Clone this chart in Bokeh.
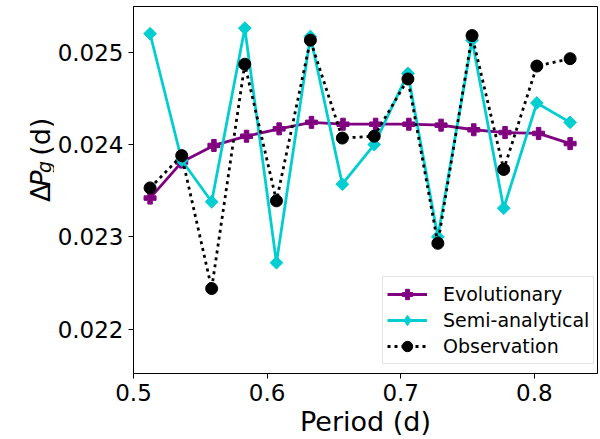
from math import pi
from bokeh.plotting import figure
from bokeh.layouts import row
from bokeh.models import Range1d, FixedTicker, ColumnDataSource, Legend, LegendItem
from bokeh.core.properties import value
from bokeh.embed import file_html
from bokeh.resources import INLINE

# ---- data ----
period_obs = [0.5124, 0.5361, 0.5585, 0.5833, 0.6070, 0.6324, 0.6563,
              0.6802, 0.7054, 0.7278, 0.7534, 0.7771, 0.8019, 0.8268]
dp_obs = [0.02353, 0.02388, 0.02244, 0.02487, 0.02339, 0.02513, 0.02407,
          0.02409, 0.02471, 0.02293, 0.02518, 0.02373, 0.02485, 0.02493]
dp_semi = [0.02520, 0.02383, 0.02338, 0.02526, 0.02272, 0.02517, 0.02357,
           0.02400, 0.02477, 0.02300, 0.02513, 0.02331, 0.02445, 0.02424]
period_evo = [0.5124, 0.5361, 0.5602, 0.5846, 0.6090, 0.6332, 0.6568,
              0.6812, 0.7061, 0.7302, 0.7547, 0.7781, 0.8032, 0.8268]
dp_evo = [0.02342, 0.02381, 0.02399, 0.02409, 0.02417, 0.02424, 0.02422,
          0.02422, 0.02422, 0.02421, 0.02416, 0.02413, 0.02412, 0.02401]
x_ticks = [0.5, 0.6, 0.7, 0.8]
y_ticks = [0.022, 0.023, 0.024, 0.025]
x_title = "Period (d)"
y_title_parts = ["Δ", "P", "g", "(d)"]
series_names = ["Evolutionary", "Semi-analytical", "Observation"]

FONT = "DejaVu Sans"
H = 439
LAB_W = 54
PURPLE = "#800080"
CYAN = "#00CED1"
NAN = float("nan")

# ---- main plot ----
p = figure(width=600 - LAB_W, height=H, output_backend="svg",
           toolbar_location=None,
           x_range=Range1d(0.5, 0.8473), y_range=Range1d(0.02152, 0.025495),
           min_border_left=132 - LAB_W, min_border_right=3, min_border_top=6,
           min_border_bottom=66)

p.grid.visible = False
p.outline_line_color = "black"
p.outline_line_width = 1
p.background_fill_color = "white"
p.border_fill_color = "white"

p.xaxis.ticker = FixedTicker(ticks=x_ticks)
p.yaxis.ticker = FixedTicker(ticks=y_ticks)
for ax in (p.xaxis, p.yaxis):
    ax.major_label_text_font = FONT
    ax.major_label_text_font_size = "23px"
    ax.major_label_text_color = "black"
    ax.major_tick_out = 5
    ax.major_tick_in = 0
    ax.major_tick_line_color = "black"
    ax.minor_tick_line_color = None
    ax.axis_line_color = "black"
p.xaxis.major_label_standoff = 5
p.yaxis.major_label_standoff = 5
p.yaxis.axis_label = None
p.xaxis.axis_label = x_title
p.xaxis.axis_label_text_font = FONT
p.xaxis.axis_label_text_font_size = "27px"
p.xaxis.axis_label_text_font_style = "normal"
p.xaxis.axis_label_text_color = "black"
p.xaxis.axis_label_standoff = 2

# ---- series ----
evo_l = p.line(period_evo, dp_evo, line_color=PURPLE, line_width=2.8)
evo_m = p.scatter(period_evo, dp_evo, marker="plus", size=12,
                  fill_color=PURPLE, line_color=PURPLE)

semi_l = p.line(period_obs, dp_semi, line_color=CYAN, line_width=2.8)
p.scatter(period_obs, dp_semi, marker="square", angle=pi / 4, size=9,
          fill_color=CYAN, line_color=CYAN)
# legend-only diamond swatch (NaN point, not drawn in the plot)
semi_key = p.scatter([NAN], [NAN], marker="diamond", size=12,
                     fill_color=CYAN, line_color=CYAN)

obs_l = p.line(period_obs, dp_obs, line_color="black", line_width=2.8,
               line_dash="3 4")
obs_m = p.scatter(period_obs, dp_obs, marker="circle", size=12,
                  fill_color="black", line_color="black")

# ---- legend ----
lg = Legend(items=[
    LegendItem(label=series_names[0], renderers=[evo_l, evo_m]),
    LegendItem(label=series_names[1], renderers=[semi_l, semi_key]),
    LegendItem(label=series_names[2], renderers=[obs_l, obs_m]),
])
lg.location = (249, 9)
lg.margin = 0
lg.padding = 4
lg.spacing = 0
lg.glyph_width = 40
lg.glyph_height = 26
lg.label_height = 26
lg.label_standoff = 16
lg.label_text_font = FONT
lg.label_text_font_size = "19px"
lg.label_text_color = "black"
lg.border_line_color = "#cccccc"
lg.border_line_width = 1
lg.background_fill_color = "white"
lg.background_fill_alpha = 0.8
p.add_layout(lg, "center")

# ---- y title drawn in a narrow side figure (pixel coordinates) ----
lab = figure(width=LAB_W, height=H, output_backend="svg",
             toolbar_location=None, x_range=Range1d(0, LAB_W),
             y_range=Range1d(0, H), min_border=0,
             x_axis_type=None, y_axis_type=None)
lab.grid.visible = False
lab.outline_line_color = None
lab.background_fill_color = "white"
lab.border_fill_color = "white"

src = ColumnDataSource(dict(
    t=y_title_parts,
    x=[40, 40, 43, 40],
    y=[H - 234, H - 215.5, H - 199.2, H - 178.6],
    fs=["27px", "27px", "19px", "27px"],
    st=["normal", "italic", "italic", "normal"],
))
lab.text(x="x", y="y", text="t", source=src, angle=pi / 2,
         text_align="left", text_baseline="alphabetic",
         text_font=value(FONT), text_font_size="fs", text_font_style="st",
         text_color="black")

layout = row(lab, p, spacing=0)
open("out.html", "w").write(file_html(layout, INLINE))
